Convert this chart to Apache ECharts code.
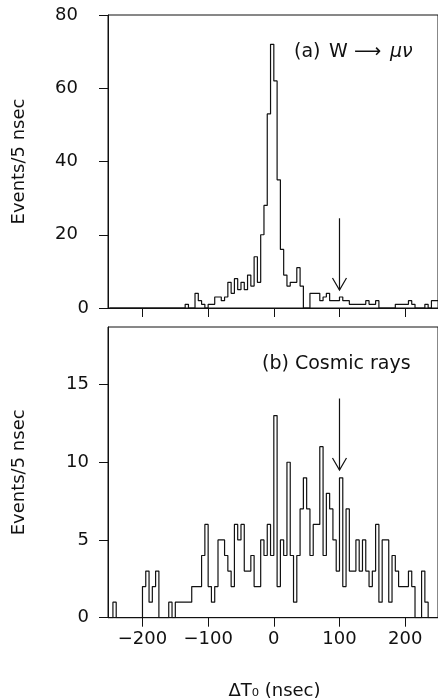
<!DOCTYPE html>
<html>
<head>
<meta charset="utf-8">
<script src="https://cdn.jsdelivr.net/npm/echarts@6/dist/echarts.min.js"></script>
<style>
html,body{margin:0;padding:0;background:#fff;}
#c{width:438px;height:700px;}
</style>
</head>
<body>
<div id="c"></div>
<script>
// Lower edges of the 5 nsec bins (nsec)
const binEdges = [
 -250,-245,-240,-235,-230,-225,-220,-215,-210,-205,
 -200,-195,-190,-185,-180,-175,-170,-165,-160,-155,
 -150,-145,-140,-135,-130,-125,-120,-115,-110,-105,
 -100,-95,-90,-85,-80,-75,-70,-65,-60,-55,
 -50,-45,-40,-35,-30,-25,-20,-15,-10,-5,
 0,5,10,15,20,25,30,35,40,45,
 50,55,60,65,70,75,80,85,90,95,
 100,105,110,115,120,125,130,135,140,145,
 150,155,160,165,170,175,180,185,190,195,
 200,205,210,215,220,225,230,235,240,245
];
const binUpper = 250;

// (a) W -> mu nu : events per bin
const histA = [
 0,0,0,0,0,0,0,0,0,0,
 0,0,0,0,0,0,0,0,0,0,
 0,0,0,1,0,0,4,2,1,0,
 1,1,3,3,2,3,7,4,8,5,
 7,5,9,6,14,7,20,28,53,72,
 62,35,16,9,6,7,7,11,6,0,
 0,4,4,4,2,3,4,2,2,2,
 3,2,2,1,1,1,1,1,2,1,
 1,2,0,0,0,0,0,1,1,1,
 1,2,1,0,0,0,1,0,2,2
];

// (b) Cosmic rays : events per bin
const histB = [
 0,1,0,0,0,0,0,0,0,0,
 2,3,1,2,3,0,0,0,1,0,
 1,1,1,1,1,2,2,2,4,6,
 2,1,2,5,5,4,3,2,6,5,
 6,3,3,4,2,2,5,4,6,4,
 13,2,5,4,10,4,1,4,7,9,
 7,4,6,6,11,4,8,7,5,3,
 9,2,7,3,3,5,3,5,3,2,
 3,6,1,5,5,1,4,3,2,2,
 2,3,2,0,0,3,1,0,0,0
];

// Tick labels
const xTicks = [-200,-100,0,100,200];
const yTicksA = [0,20,40,60,80];
const yTicksB = [0,5,10,15];

// Cut arrows: [x, from, to]
const arrowA = [[100, 24.5, 4.9]];
const arrowB = [[100, 14.1, 9.5]];

const INK = '#111';
const FONT = 'DejaVu Sans';

function stepData(hist){
  const d = binEdges.map((e,i)=>[e, hist[i]]);
  d.push([binUpper, hist[hist.length-1]]);
  return d;
}

function arrowRender(params, api){
  const x = api.value(0), y1 = api.value(1), y2 = api.value(2);
  const p1 = api.coord([x, y1]), p2 = api.coord([x, y2]);
  return {type:'group', children:[
    {type:'line', shape:{x1:p1[0], y1:p1[1], x2:p2[0], y2:p2[1]}, style:{stroke:INK, lineWidth:1.2}},
    {type:'polyline', shape:{points:[[p2[0]-7,p2[1]-12],[p2[0],p2[1]],[p2[0]+7,p2[1]-12]]}, style:{stroke:INK, fill:null, lineWidth:1.2}}
  ]};
}

function fmtMinus(v){ return String(v).replace('-', '\u2212'); }

const commonX = {
  type:'value', min:-252.5, max:250,
  axisLine:{show:true, onZero:false, lineStyle:{color:INK, width:1}},
  axisTick:{show:true, inside:false, length:9, customValues:xTicks, lineStyle:{color:INK, width:1}},
  splitLine:{show:false}
};

function yAxisDef(idx, max, ticks, formatter, rich){
  return {type:'value', gridIndex:idx, min:0, max:max,
     name:'Events/5 nsec', nameLocation:'middle', nameRotate:90, nameGap:80,
     nameTextStyle:{fontSize:18, fontFamily:FONT, color:INK},
     axisLine:{show:true, onZero:false, lineStyle:{color:INK}},
     axisTick:{show:true, inside:false, length:9, customValues:ticks, lineStyle:{color:INK}},
     axisLabel:{show:true, customValues:ticks, margin:19, fontSize:18, fontFamily:FONT, color:INK,
       formatter:formatter, rich:rich},
     splitLine:{show:false}};
}

const chart = echarts.init(document.getElementById('c'), null, {renderer:'canvas'});
chart.setOption({
  animation:false,
  backgroundColor:'#fff',
  textStyle:{fontFamily:FONT, color:INK},
  grid:[
    {left:108, top:15, width:331.65, height:293, show:true, borderColor:INK, borderWidth:1, containLabel:false},
    {left:108, top:327, width:331.65, height:290.7, show:true, borderColor:INK, borderWidth:1, containLabel:false}
  ],
  xAxis:[
    Object.assign({}, commonX, {gridIndex:0, axisLabel:{show:false}}),
    Object.assign({}, commonX, {gridIndex:1,
      axisLabel:{show:true, customValues:xTicks, margin:13, fontSize:18, fontFamily:FONT, color:INK, formatter:fmtMinus}})
  ],
  yAxis:[
    yAxisDef(0, 80, yTicksA, function(v){ return v === 0 ? String(v) : '{w|' + v + '}'; },
      {w:{fontSize:18, fontFamily:FONT, color:INK, padding:[0,11,0,0]}}),
    yAxisDef(1, 18.7, yTicksB)
  ],
  series:[
    {type:'line', xAxisIndex:0, yAxisIndex:0, step:'end', showSymbol:false, data:stepData(histA),
     lineStyle:{color:INK, width:1.2}, itemStyle:{color:INK}},
    {type:'line', xAxisIndex:1, yAxisIndex:1, step:'end', showSymbol:false, data:stepData(histB),
     lineStyle:{color:INK, width:1.2}, itemStyle:{color:INK}},
    {type:'custom', xAxisIndex:0, yAxisIndex:0, renderItem:arrowRender, data:arrowA, clip:false},
    {type:'custom', xAxisIndex:1, yAxisIndex:1, renderItem:arrowRender, data:arrowB, clip:false}
  ],
  graphic:[
    {type:'text', left:294, top:43, style:{text:'(a)', fontFamily:FONT, fontSize:19, fill:INK}},
    {type:'text', left:329, top:43, style:{text:'W', fontFamily:FONT, fontSize:19, fill:INK}},
    {type:'text', left:354, top:43, style:{text:'\u27F6', fontFamily:FONT, fontSize:19, fill:INK}},
    {type:'text', left:390, top:43, style:{text:'\u03BC\u03BD', fontFamily:FONT, fontSize:19, fontStyle:'italic', fill:INK}},
    {type:'text', left:262, top:355, style:{text:'(b) Cosmic rays', fontFamily:FONT, fontSize:19, fill:INK}},
    {type:'text', x:274.5, y:691, style:{text:'\u0394T\u2080 (nsec)', fontFamily:FONT, fontSize:18, fill:INK, align:'center', verticalAlign:'middle'}}
  ]
});
</script>
</body>
</html>
